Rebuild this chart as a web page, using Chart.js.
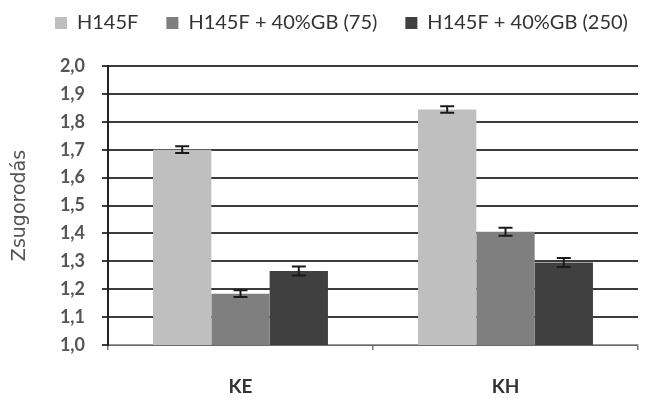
<!DOCTYPE html>
<html><head><meta charset="utf-8">
<script src="https://cdn.jsdelivr.net/npm/chart.js@4/dist/chart.umd.min.js"></script>
<style>html,body{margin:0;padding:0;background:#fff}#w{width:645px;height:399px}</style>
</head><body><div id="w"><canvas id="c" width="645" height="399"></canvas></div>
<script>
const categories = ["KE", "KH"];
const seriesNames = ["H145F", "H145F + 40%GB (75)", "H145F + 40%GB (250)"];
const h145f = [1.700, 1.844];
const gb75 = [1.184, 1.406];
const gb250 = [1.265, 1.296];
const err_h145f = [0.012, 0.012];
const err_gb75 = [0.012, 0.014];
const err_gb250 = [0.016, 0.016];
const yTicks = [1.0, 1.1, 1.2, 1.3, 1.4, 1.5, 1.6, 1.7, 1.8, 1.9, 2.0];
const colors = ["#bfbfbf", "#7f7f7f", "#404040"];

const errorBars = {
  id: 'errorBars',
  afterDatasetsDraw(chart) {
    const ctx = chart.ctx, y = chart.scales.y;
    chart.data.datasets.forEach((ds, di) => {
      const meta = chart.getDatasetMeta(di);
      meta.data.forEach((bar, i) => {
        const v = ds.data[i], e = ds.errors[i];
        const yt = y.getPixelForValue(v + e), yb = y.getPixelForValue(v - e);
        ctx.save();
        ctx.strokeStyle = '#1a1a1a'; ctx.lineWidth = 2;
        ctx.beginPath();
        ctx.moveTo(bar.x, yt); ctx.lineTo(bar.x, yb);
        ctx.moveTo(bar.x - 7, yt); ctx.lineTo(bar.x + 7, yt);
        ctx.moveTo(bar.x - 7, yb); ctx.lineTo(bar.x + 7, yb);
        ctx.stroke();
        ctx.restore();
      });
    });
  }
};

const legendPlace = {
  id: 'legendPlace',
  beforeUpdate(chart) {
    const lg = chart.legend;
    if (!lg || lg._placed) return;
    lg._placed = true;
    const fit = lg.fit, draw = lg.draw;
    lg.fit = function() { fit.call(this); this.height = 66; };
    lg.draw = function() {
      const ctx = this.ctx;
      ctx.save(); ctx.translate(20, -15); draw.call(this); ctx.restore();
    };
  }
};

new Chart(document.getElementById('c'), {
  type: 'bar',
  data: {
    labels: categories,
    datasets: [
      {label: seriesNames[0], data: h145f, errors: err_h145f, backgroundColor: colors[0]},
      {label: seriesNames[1], data: gb75, errors: err_gb75, backgroundColor: colors[1]},
      {label: seriesNames[2], data: gb250, errors: err_gb250, backgroundColor: colors[2]}
    ]
  },
  options: {
    responsive: false,
    animation: false,
    devicePixelRatio: 1,
    layout: {padding: {left: 7, right: 7, top: 0, bottom: 0}},
    datasets: {bar: {categoryPercentage: 0.66, barPercentage: 1.0}},
    plugins: {
      legend: {
        position: 'top',
        align: 'start',
        labels: {boxWidth: 12, boxHeight: 12, padding: 28, color: '#333',
          font: {family: 'Lato', size: 20}}
      },
      tooltip: {enabled: false}
    },
    scales: {
      x: {
        grid: {drawOnChartArea: false, offset: true, tickLength: 5, color: '#777', lineWidth: 1.5},
        border: {color: '#999', width: 1.5},
        ticks: {color: '#333', padding: 25, font: {family: 'Lato', size: 19, weight: 'bold'}},
        afterFit(s) { s.height = 54; }
      },
      y: {
        min: 1.0, max: 2.0,
        afterBuildTicks(s) { s.ticks = yTicks.map(v => ({value: v})); },
        grid: {color: '#3c3c3c', lineWidth: 2, tickLength: 6},
        border: {color: '#222', width: 2},
        ticks: {color: '#555', padding: 17, font: {family: 'Lato', size: 18, weight: 'bold'},
          callback: v => v.toFixed(1).replace('.', ',')},
        title: {display: true, text: 'Zsugorodás', color: '#555', padding: {top: 2, bottom: 0},
          font: {family: 'DejaVu Sans', size: 19}},
        afterFit(s) { s.width = 101; }
      }
    }
  },
  plugins: [errorBars, legendPlace]
});
</script></body></html>
